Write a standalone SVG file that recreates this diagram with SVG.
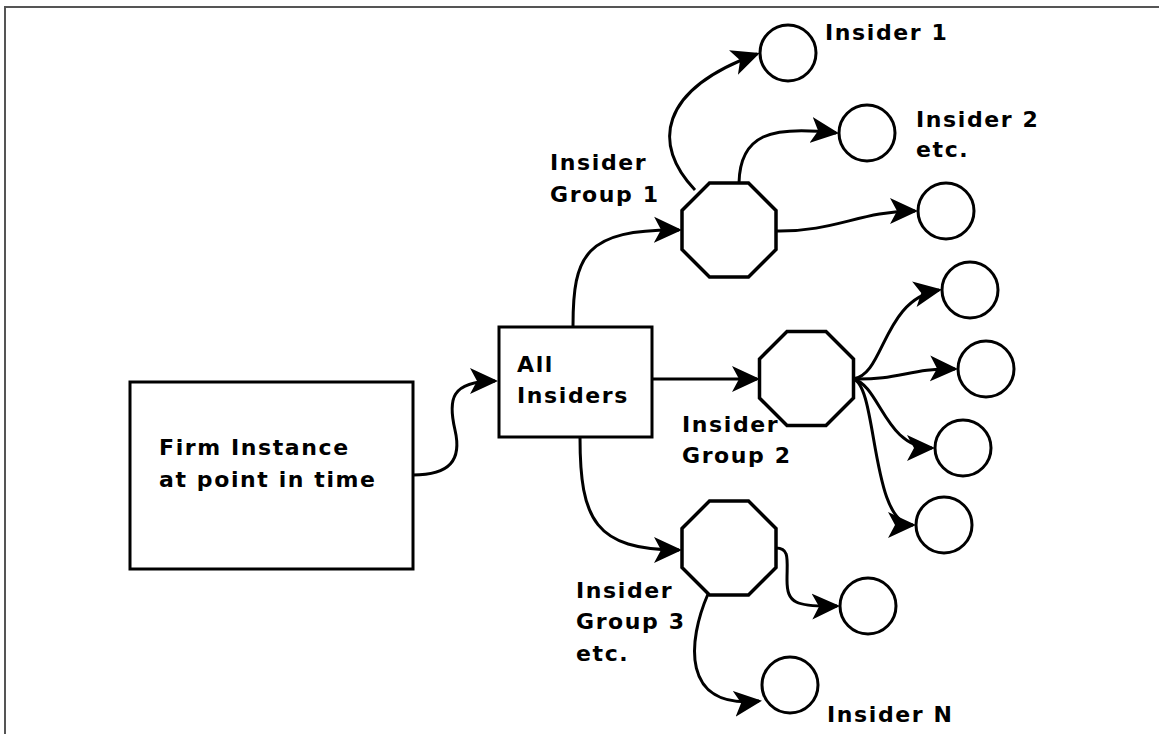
<svg xmlns="http://www.w3.org/2000/svg" width="1159" height="734" viewBox="0 0 1159 734">
<style>
.box{fill:#fff;stroke:#000;stroke-width:3}
.oct{fill:#fff;stroke:#000;stroke-width:3.5;stroke-linejoin:miter}
.circ{fill:#fff;stroke:#000;stroke-width:3}
.edge{fill:none;stroke:#000;stroke-width:3}
text{font-family:"DejaVu Sans","Liberation Sans",sans-serif;font-weight:bold;font-size:22px;letter-spacing:1.6px;fill:#000}
</style>
<defs>
<marker id="arr" markerUnits="userSpaceOnUse" markerWidth="30" markerHeight="28" viewBox="0 0 30 28" refX="25" refY="14" orient="auto">
<path d="M0,1 L28,14 L0,27 L7,14 Z" fill="#000"/>
</marker>
<polygon id="octagon" points="-19.5,-47 19.5,-47 47,-19.5 47,19.5 19.5,47 -19.5,47 -47,19.5 -47,-19.5"/>
</defs>
<rect width="1159" height="734" fill="#fff"/>
<path d="M5,734 L5,7 L1159,7" fill="none" stroke="#555" stroke-width="2"/>

<g id="connectors">
<path class="edge" marker-end="url(#arr)" d="M413,475 C450,475 462,460 455,430 C448,400 450,381 495,381"/>
<path class="edge" marker-end="url(#arr)" d="M573,326 C573,255 585,229 679,230"/>
<path class="edge" marker-end="url(#arr)" d="M652,379 L757,379"/>
<path class="edge" marker-end="url(#arr)" d="M580,437 C580,520 595,550 679,550"/>
<path class="edge" marker-end="url(#arr)" d="M695,190 C652,145 658,90 757,54"/>
<path class="edge" marker-end="url(#arr)" d="M739,183 C740,135 770,125 836,133"/>
<path class="edge" marker-end="url(#arr)" d="M776,231 C835,232 860,211 915,211"/>
<path class="edge" marker-end="url(#arr)" d="M853,379 C885,375 882,300 939,290"/>
<path class="edge" marker-end="url(#arr)" d="M853,379 C900,380 910,368 955,369"/>
<path class="edge" marker-end="url(#arr)" d="M853,379 C880,385 885,448 932,448"/>
<path class="edge" marker-end="url(#arr)" d="M853,379 C878,385 870,525 913,525"/>
<path class="edge" marker-end="url(#arr)" d="M776,548 C790,548 787,560 787,580 C787,603 795,607 837,606"/>
<path class="edge" marker-end="url(#arr)" d="M708,594 C688,640 680,710 759,701"/>
</g>

<g id="firm">
<rect class="box" x="130" y="382" width="283" height="187"/>
<text x="159" y="455">Firm Instance</text>
<text x="159" y="487">at point in time</text>
</g>
<g id="all-insiders">
<rect class="box" x="499" y="327" width="153" height="110"/>
<text x="517" y="372">All</text>
<text x="517" y="403">Insiders</text>
</g>
<g id="group1">
<use href="#octagon" class="oct" x="729" y="230"/>
<text x="550" y="170">Insider</text>
<text x="550" y="202">Group 1</text>
</g>
<g id="group2">
<use href="#octagon" class="oct" x="806.5" y="378.5"/>
<text x="682" y="432">Insider</text>
<text x="682" y="463">Group 2</text>
</g>
<g id="group3">
<use href="#octagon" class="oct" x="729" y="548"/>
<text x="576" y="598">Insider</text>
<text x="576" y="629">Group 3</text>
<text x="576" y="661">etc.</text>
</g>
<g id="insider1">
<circle class="circ" cx="788" cy="53" r="28"/>
<text x="825" y="40">Insider 1</text>
</g>
<g id="insider2">
<circle class="circ" cx="867" cy="133" r="28"/>
<text x="916" y="127">Insider 2</text>
<text x="916" y="157">etc.</text>
</g>
<g id="insider1c"><circle class="circ" cx="946" cy="211" r="28"/></g>
<g id="insider2a"><circle class="circ" cx="970" cy="290" r="28"/></g>
<g id="insider2b"><circle class="circ" cx="986" cy="369" r="28"/></g>
<g id="insider2c"><circle class="circ" cx="963" cy="448" r="28"/></g>
<g id="insider2d"><circle class="circ" cx="944" cy="525" r="28"/></g>
<g id="insider3a"><circle class="circ" cx="868" cy="606" r="28"/></g>
<g id="insiderN">
<circle class="circ" cx="790" cy="685" r="28"/>
<text x="827" y="722">Insider N</text>
</g>
</svg>
